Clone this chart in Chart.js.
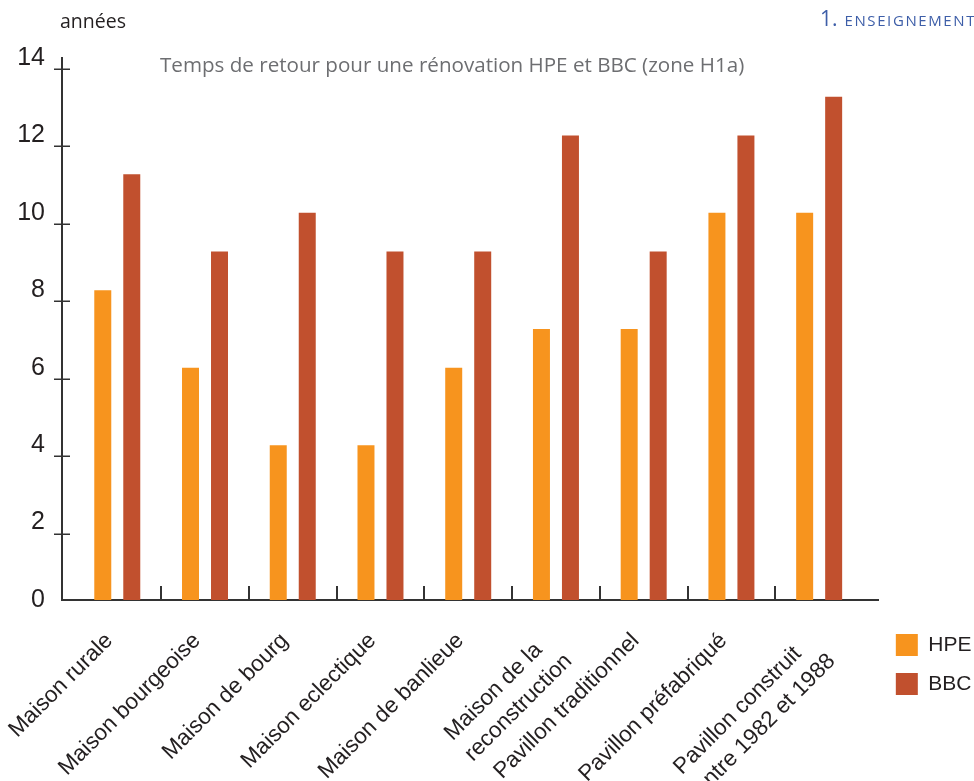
<!DOCTYPE html>
<html><head><meta charset="utf-8">
<script src="https://cdn.jsdelivr.net/npm/chart.js@4.4.0/dist/chart.umd.min.js"></script>
<style>
html,body{margin:0;padding:0;background:#fff;}
#wrap{position:relative;width:974px;height:781px;overflow:hidden;background:#fff;}
#c{position:absolute;left:0;top:0;}
.t{position:absolute;white-space:nowrap;line-height:1;}
</style></head><body>
<div id="wrap">
<canvas id="c" width="974" height="781"></canvas>
<div class="t" id="unit" style="left:60px;top:11px;font-family:'Open Sans';font-size:19.5px;color:#231f20;">années</div>
<div class="t" id="title" style="left:160px;top:54px;font-family:'Open Sans';font-size:20.6px;color:#6d6e71;">Temps de retour pour une rénovation HPE et BBC (zone H1a)</div>
<div class="t" id="hdr" style="left:820px;top:8px;font-family:'Open Sans';color:#3d5ea8;"><span style="font-size:21px;">1.</span><span style="font-size:15px;letter-spacing:1.6px;margin-left:7px;">ENSEIGNEMENT</span></div>
</div>
<script>
const categories = ['Maison rurale', 'Maison bourgeoise', 'Maison de bourg', 'Maison eclectique', 'Maison de banlieue', ['Maison de la', 'reconstruction'], 'Pavillon traditionnel', 'Pavillon préfabriqué', ['Pavillon construit', 'entre 1982 et 1988']];
const hpeValues = [8, 6, 4, 4, 6, 7, 7, 10, 10];
const bbcValues = [11, 9, 10, 9, 9, 12, 9, 12, 13];
const yTicks = [0, 2, 4, 6, 8, 10, 12, 14];
const seriesNames = ['HPE', 'BBC'];

const axisColor = '#333333';
const textColor = '#231f20';
const labelFont = {family: 'Liberation Sans', size: 22.5, lineHeight: 1.29};

// Multi-line category labels are left-aligned in the reference, and all labels
// end slightly before their tick: pad with hair spaces (right-aligned text).
const measureCtx = document.createElement('canvas').getContext('2d');
measureCtx.font = labelFont.size + 'px "' + labelFont.family + '"';
const HS = '\u200A';
function formatLabel(label) {
  const lines = Array.isArray(label) ? label : [label];
  const w = l => measureCtx.measureText(l).width;
  const maxW = Math.max(...lines.map(w));
  const out = lines.map(l => {
    let s = l;
    while (w(s + HS) <= maxW + 0.5) s += HS;
    let t = s;
    while (w(t) - w(s) < 10) t += HS;
    return t;
  });
  return out.length > 1 ? out : out[0];
}

const axisDecor = {
  id: 'axisDecor',
  afterLayout(chart) {
    // let the rotated category labels run to the bottom edge of the canvas
    chart.scales.x.bottom = chart.height;
  },
  afterDraw(chart) {
    const {ctx, scales: {x, y}, chartArea} = chart;
    ctx.save();
    ctx.strokeStyle = axisColor;
    ctx.lineWidth = 1.5;
    yTicks.forEach(v => {
      if (v === 0) return;
      const py = Math.round(y.getPixelForValue(v) + 11) + 0.25;
      ctx.beginPath(); ctx.moveTo(chartArea.left - 8, py); ctx.lineTo(chartArea.left + 8, py); ctx.stroke();
    });
    ctx.lineWidth = 2;
    for (let i = 0; i < categories.length - 1; i++) {
      const px = Math.round(x.getPixelForValue(i + 0.5));
      ctx.beginPath(); ctx.moveTo(px, chartArea.bottom - 14); ctx.lineTo(px, chartArea.bottom); ctx.stroke();
    }
    ctx.restore();
  }
};

const toPoints = vals => vals.map((v, i) => ({x: i, y: v}));

new Chart(document.getElementById('c'), {
  type: 'bar',
  data: {
    datasets: [
      {label: seriesNames[0], data: toPoints(hpeValues), backgroundColor: '#f7941e', borderWidth: 0},
      {label: seriesNames[1], data: toPoints(bbcValues), backgroundColor: '#c1502e', borderWidth: 0}
    ]
  },
  options: {
    responsive: false,
    devicePixelRatio: 1,
    animation: false,
    categoryPercentage: 0.661,
    barPercentage: 0.586,
    layout: {padding: {top: 58, bottom: 69, left: 17, right: -7.5}},
    plugins: {
      legend: {
        position: 'right',
        align: 'end',
        labels: {boxWidth: 22, boxHeight: 22, padding: 17, color: textColor, font: {family: 'Liberation Sans', size: 21}}
      },
      tooltip: {enabled: false},
      title: {display: false}
    },
    scales: {
      x: {
        type: 'linear',
        offset: false,
        min: -0.63,
        max: 8.68,
        grid: {display: false, drawTicks: false, offset: false},
        border: {display: true, color: axisColor, width: 2},
        afterBuildTicks: s => { s.ticks = categories.map((c, i) => ({value: i})); },
        afterFit: s => { s.height = 112; s.paddingLeft = 0; s.paddingRight = 0; },
        ticks: {
          autoSkip: false,
          minRotation: 45,
          maxRotation: 45,
          padding: 19,
          color: textColor,
          font: labelFont,
          callback: v => formatLabel(categories[v])
        }
      },
      y: {
        min: 0,
        max: 14,
        grid: {display: false, drawTicks: false},
        border: {display: true, color: axisColor, width: 2},
        afterBuildTicks: s => { s.ticks = yTicks.map(v => ({value: v})); },
        afterFit: s => { s.width = 45; },
        ticks: {padding: 17, color: textColor, font: {family: 'Liberation Sans', size: 25}}
      }
    }
  },
  plugins: [axisDecor]
});
</script>
</body></html>
